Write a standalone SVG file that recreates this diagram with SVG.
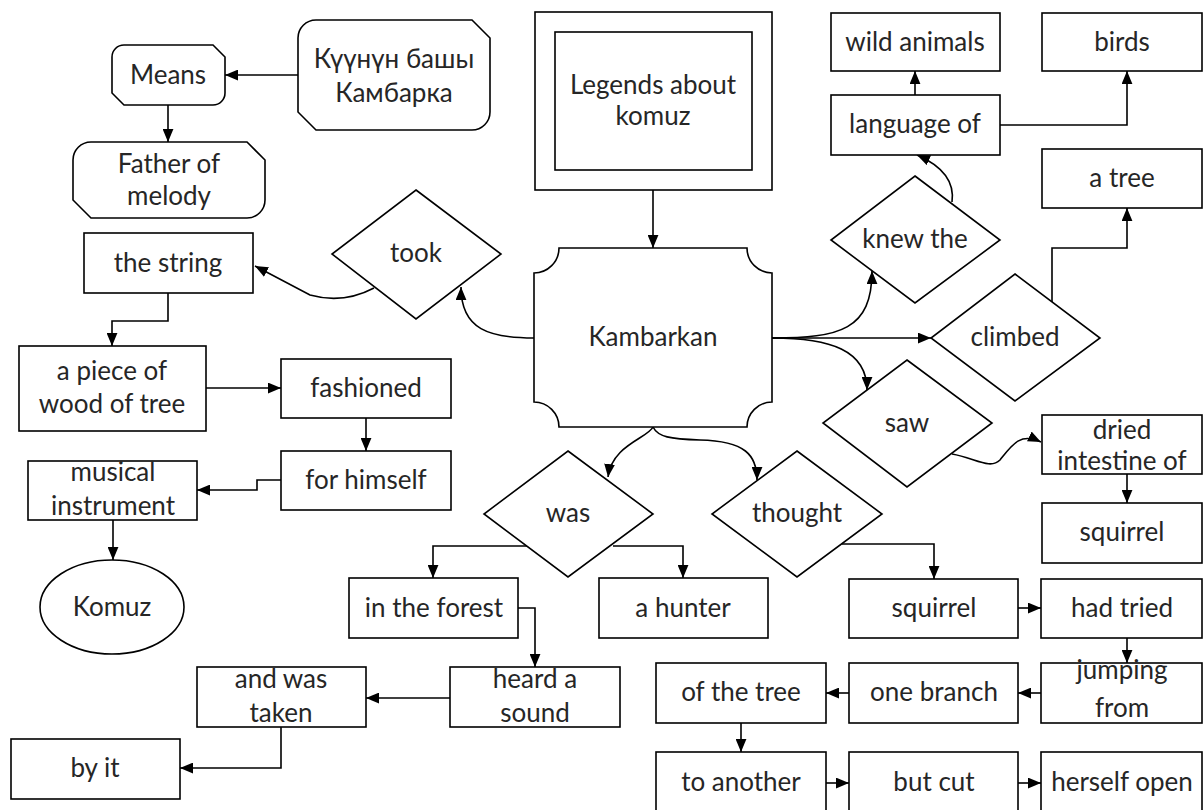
<svg xmlns="http://www.w3.org/2000/svg" width="1203" height="810" viewBox="0 0 1203 810">
<defs>
<style>
.n{fill:#fff;stroke:#000;stroke-width:1.6}
.t{font-family:Lato,"Noto Sans",sans-serif;font-size:26px;fill:#262626;text-anchor:middle}
.c{fill:none;stroke:#000;stroke-width:1.6}
</style>
<marker id="a" viewBox="0 0 12 10" refX="12" refY="5" markerWidth="13" markerHeight="11" markerUnits="userSpaceOnUse" orient="auto">
<path d="M0,0 L12,5 L0,10 z" fill="#000"/>
</marker>
</defs>
<rect width="1203" height="810" fill="#fff"/>
<g id="connectors">
<path class="c" marker-end="url(#a)" d="M298,75 H225"/>
<path class="c" marker-end="url(#a)" d="M168,105 V142"/>
<path class="c" marker-end="url(#a)" d="M653,190 V248"/>
<path class="c" marker-end="url(#a)" d="M534,338 C490,338 461,330 461,287"/>
<path class="c" marker-end="url(#a)" d="M374,288 C355,298 335,302 310,295 L255,266"/>
<path class="c" marker-end="url(#a)" d="M168,293 V321 H112 V346"/>
<path class="c" marker-end="url(#a)" d="M206,388 H281"/>
<path class="c" marker-end="url(#a)" d="M366,418 V451"/>
<path class="c" marker-end="url(#a)" d="M281,480 H257 V490 H197"/>
<path class="c" marker-end="url(#a)" d="M113,520 V560"/>
<path class="c" marker-end="url(#a)" d="M653,427 C648,438 612,445 608,477"/>
<path class="c" marker-end="url(#a)" d="M653,427 C658,437 670,439 700,440 C745,441 757,455 757,480"/>
<path class="c" marker-end="url(#a)" d="M527,546 H433 V578"/>
<path class="c" marker-end="url(#a)" d="M613,546 H683 V578"/>
<path class="c" marker-end="url(#a)" d="M518,608 H535 V667"/>
<path class="c" marker-end="url(#a)" d="M450,698 H366"/>
<path class="c" marker-end="url(#a)" d="M281,727 V768 H180"/>
<path class="c" marker-end="url(#a)" d="M842,544 H934 V579"/>
<path class="c" marker-end="url(#a)" d="M1018,608 H1041"/>
<path class="c" marker-end="url(#a)" d="M1127,638 V663"/>
<path class="c" marker-end="url(#a)" d="M1041,693 H1018"/>
<path class="c" marker-end="url(#a)" d="M849,693 H826"/>
<path class="c" marker-end="url(#a)" d="M741,723 V752"/>
<path class="c" marker-end="url(#a)" d="M826,783 H849"/>
<path class="c" marker-end="url(#a)" d="M1018,783 H1041"/>
<path class="c" marker-end="url(#a)" d="M772,338 H931"/>
<path class="c" marker-end="url(#a)" d="M772,338 C840,338 872,330 872,271"/>
<path class="c" marker-end="url(#a)" d="M772,338 C830,338 867,350 867,390"/>
<path class="c" marker-end="url(#a)" d="M952,202 C955,180 940,165 917,155"/>
<path class="c" marker-end="url(#a)" d="M915,95 V71"/>
<path class="c" marker-end="url(#a)" d="M1000,125 H1127 V71"/>
<path class="c" marker-end="url(#a)" d="M1052,302 V248 H1127 V208"/>
<path class="c" marker-end="url(#a)" d="M952,454 C975,458 990,470 1000,460 C1012,445 1020,432 1041,442"/>
<path class="c" marker-end="url(#a)" d="M1127,474 V503"/>
</g>
<g id="kuunun"><path class="n" d="M316,20 H472 L490,38 V112 A18,18 0 0 1 472,130 H316 L298,112 V38 A18,18 0 0 1 316,20 Z"/><text class="t" x="394" y="68">Күүнүн башы</text><text class="t" x="394" y="102">Камбарка</text></g>
<g id="means"><path class="n" d="M124,45 H213 L225,57 V93 A12,12 0 0 1 213,105 H124 L112,93 V57 A12,12 0 0 1 124,45 Z"/><text class="t" x="168" y="84">Means</text></g>
<g id="father"><path class="n" d="M91,142 H247 L265,160 V200 A18,18 0 0 1 247,218 H91 L73,200 V160 A18,18 0 0 1 91,142 Z"/><text class="t" x="169" y="173">Father of</text><text class="t" x="169" y="205">melody</text></g>
<g id="legends"><rect class="n" x="535" y="12" width="237" height="178"/><rect class="n" x="555" y="32" width="197" height="138"/><text class="t" x="653" y="94">Legends about</text><text class="t" x="653" y="125">komuz</text></g>
<g id="kambarkan"><path class="n" d="M559,248 H747 A25,25 0 0 0 772,273 V402 A25,25 0 0 0 747,427 H559 A25,25 0 0 0 534,402 V273 A25,25 0 0 0 559,248 Z"/><text class="t" x="653" y="346">Kambarkan</text></g>
<g id="took"><path class="n" d="M416,190 L501,254 L416,319 L332,254 Z"/><text class="t" x="416" y="262">took</text></g>
<g id="string"><rect class="n" x="84" y="233" width="169" height="60"/><text class="t" x="168" y="272">the string</text></g>
<g id="piece"><rect class="n" x="19" y="346" width="187" height="85"/><text class="t" x="112" y="380">a piece of</text><text class="t" x="112" y="413">wood of tree</text></g>
<g id="fashioned"><rect class="n" x="281" y="359" width="170" height="59"/><text class="t" x="366" y="397">fashioned</text></g>
<g id="himself"><rect class="n" x="281" y="451" width="170" height="59"/><text class="t" x="366" y="489">for himself</text></g>
<g id="musical"><rect class="n" x="28" y="461" width="169" height="59"/><text class="t" x="113" y="481">musical</text><text class="t" x="113" y="515">instrument</text></g>
<g id="komuz"><ellipse class="n" cx="112" cy="607" rx="72" ry="47"/><text class="t" x="112" y="616">Komuz</text></g>
<g id="was"><path class="n" d="M568,451 L653,514 L568,577 L484,514 Z"/><text class="t" x="568" y="522">was</text></g>
<g id="thought"><path class="n" d="M797,451 L882,514 L797,577 L712,514 Z"/><text class="t" x="797" y="522">thought</text></g>
<g id="forest"><rect class="n" x="349" y="578" width="169" height="60"/><text class="t" x="434" y="617">in the forest</text></g>
<g id="hunter"><rect class="n" x="599" y="578" width="169" height="60"/><text class="t" x="683" y="617">a hunter</text></g>
<g id="heard"><rect class="n" x="450" y="667" width="170" height="60"/><text class="t" x="535" y="688">heard a</text><text class="t" x="535" y="722">sound</text></g>
<g id="taken"><rect class="n" x="197" y="667" width="169" height="60"/><text class="t" x="281" y="688">and was</text><text class="t" x="281" y="722">taken</text></g>
<g id="byit"><rect class="n" x="11" y="739" width="169" height="60"/><text class="t" x="95" y="777">by it</text></g>
<g id="squirrel2"><rect class="n" x="849" y="579" width="169" height="59"/><text class="t" x="934" y="617">squirrel</text></g>
<g id="tried"><rect class="n" x="1041" y="579" width="161" height="59"/><text class="t" x="1122" y="617">had tried</text></g>
<g id="jumping"><rect class="n" x="1041" y="663" width="161" height="60"/><text class="t" x="1122" y="679">jumping</text><text class="t" x="1122" y="717">from</text></g>
<g id="branch"><rect class="n" x="849" y="663" width="169" height="60"/><text class="t" x="934" y="701">one branch</text></g>
<g id="ofthetree"><rect class="n" x="656" y="663" width="170" height="60"/><text class="t" x="741" y="701">of the tree</text></g>
<g id="another"><rect class="n" x="656" y="752" width="170" height="60"/><text class="t" x="741" y="791">to another</text></g>
<g id="butcut"><rect class="n" x="849" y="752" width="169" height="60"/><text class="t" x="934" y="791">but cut</text></g>
<g id="open"><rect class="n" x="1041" y="752" width="161" height="60"/><text class="t" x="1122" y="791">herself open</text></g>
<g id="wild"><rect class="n" x="831" y="13" width="169" height="58"/><text class="t" x="915" y="51">wild animals</text></g>
<g id="birds"><rect class="n" x="1042" y="13" width="160" height="58"/><text class="t" x="1122" y="51">birds</text></g>
<g id="language"><rect class="n" x="831" y="95" width="169" height="60"/><text class="t" x="915" y="133">language of</text></g>
<g id="atree"><rect class="n" x="1042" y="149" width="160" height="59"/><text class="t" x="1122" y="187">a tree</text></g>
<g id="knew"><path class="n" d="M915,176 L1000,240 L915,303 L831,240 Z"/><text class="t" x="915" y="248">knew the</text></g>
<g id="climbed"><path class="n" d="M1015,274 L1100,338 L1015,401 L931,338 Z"/><text class="t" x="1015" y="346">climbed</text></g>
<g id="saw"><path class="n" d="M907,360 L992,423 L907,487 L823,423 Z"/><text class="t" x="907" y="432">saw</text></g>
<g id="dried"><rect class="n" x="1042" y="415" width="160" height="59"/><text class="t" x="1122" y="439">dried</text><text class="t" x="1122" y="470">intestine of</text></g>
<g id="squirrel1"><rect class="n" x="1042" y="503" width="160" height="60"/><text class="t" x="1122" y="541">squirrel</text></g>
</svg>
